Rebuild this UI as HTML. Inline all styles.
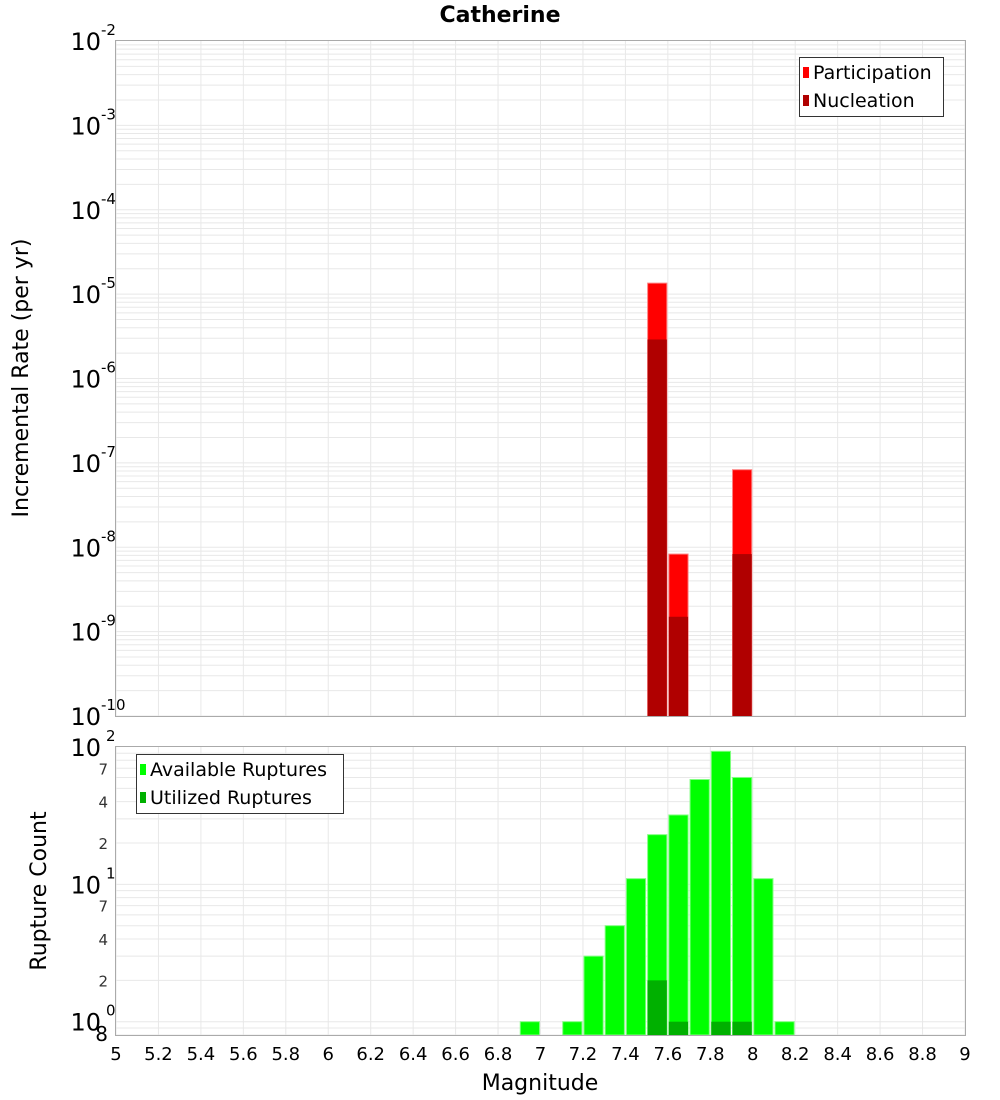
<!DOCTYPE html>
<html><head><meta charset="utf-8"><style>
body{margin:0;background:#fff;}
svg{display:block;font-family:"DejaVu Sans","Liberation Sans",sans-serif;}
</style></head><body>
<svg id="c" width="1000" height="1100" xmlns="http://www.w3.org/2000/svg">
<text x="500" y="22" text-anchor="middle" font-size="22" font-weight="bold">Catherine</text>
<text transform="translate(28,378) rotate(-90)" text-anchor="middle" font-size="22">Incremental Rate (per yr)</text>
<text transform="translate(46,891) rotate(-90)" text-anchor="middle" font-size="22">Rupture Count</text>
<text x="540" y="1090" text-anchor="middle" font-size="22">Magnitude</text>
<g id="g"></g>
</svg>
<script>
const mags = [6.95,7.05,7.15,7.25,7.35,7.45,7.55,7.65,7.75,7.85,7.95,8.05,8.15];
const available = [1,0,1,3,5,11,23,32,58,93,60,11,1];
const utilized = [0,0,0,0,0,0,2,1,0,1,1,0,0];
const rateMags = [7.55,7.65,7.95];
const participation = [1.35e-5,8.3e-9,8.3e-8];
const nucleation = [2.9e-6,1.5e-9,8.3e-9];
const xTicks = [5,5.2,5.4,5.6,5.8,6,6.2,6.4,6.6,6.8,7,7.2,7.4,7.6,7.8,8,8.2,8.4,8.6,8.8,9];
const topExps = [-2,-3,-4,-5,-6,-7,-8,-9,-10];

const NS="http://www.w3.org/2000/svg";
const g=document.getElementById('g');
function mk(t,a,txt){const e=document.createElementNS(NS,t);for(const k in a)e.setAttribute(k,a[k]);if(txt!==undefined)e.textContent=txt;g.appendChild(e);return e;}
const X0=116,X1=965;
const x=m=>X0+(m-5)/4*(X1-X0);
const T0=41,T1=716;
const yT=v=>T0+(-2-Math.log10(v))/8*(T1-T0);
const B0=747,B1=1035;
const bLmin=Math.log10(0.8),bLmax=2;
const yB=v=>B0+(bLmax-Math.log10(v))/(bLmax-bLmin)*(B1-B0);

// grids
for(const t of xTicks){
  for(const [a,b] of [[T0,T1],[B0,B1]]){
    const l=mk('line',{x1:x(t),x2:x(t),y1:a,y2:b,stroke:'#e8e8e8','stroke-width':1});
    
  }
}
for(let e=-10;e<-2;e++){for(let k=1;k<=9;k++){const v=k*Math.pow(10,e);if(v<1e-10)continue;
  const l=mk('line',{x1:X0,x2:X1,y1:yT(v),y2:yT(v),stroke:'#e8e8e8','stroke-width':1});
  }}
for(let e=-1;e<2;e++){for(let k=1;k<=9;k++){const v=k*Math.pow(10,e);if(v<0.8||v>100)continue;
  const l=mk('line',{x1:X0,x2:X1,y1:yB(v),y2:yB(v),stroke:'#e8e8e8','stroke-width':1});
  }}

// top bars
rateMags.forEach((m,i)=>{
  const l=x(m-0.05)+1,r=x(m+0.05)-1;
  const p=mk('rect',{x:l,y:yT(participation[i]),width:r-l,height:T1-yT(participation[i]),fill:'#ff0000',stroke:'#ff8080','stroke-width':1});
  
  const n=mk('rect',{x:l,y:yT(nucleation[i]),width:r-l,height:T1-yT(nucleation[i]),fill:'#b00000'});
  
});
// bottom bars
mags.forEach((m,i)=>{
  const l=x(m-0.05)+1,r=x(m+0.05)-1;
  if(available[i]>0){const a=mk('rect',{x:l,y:yB(available[i]),width:r-l,height:B1-yB(available[i]),fill:'#00ff00',stroke:'#80ff80','stroke-width':1});
  }
  if(utilized[i]>0){const u=mk('rect',{x:l,y:yB(utilized[i]),width:r-l,height:B1-yB(utilized[i]),fill:'#00b000'});
  }
});
// frames
for(const [a,b,n] of [[T0,T1,'top-plot-frame'],[B0,B1,'bottom-plot-frame']]){
  const f=mk('rect',{x:X0-0.5,y:a-0.5,width:X1-X0+1,height:b-a+1,fill:'none',stroke:'#aaaaaa','stroke-width':1});
  
}
// top y ticks
topExps.forEach(e=>{
  const yy=yT(Math.pow(10,e));
  const t=mk('text',{x:101,y:yy+9,'text-anchor':'end','font-size':24},'10');
  
  const s=mk('text',{x:101,y:yy-6,'font-size':15},String(e));
  
});
// bottom y ticks
[[100,'2'],[10,'1'],[1,'0']].forEach(([v,e])=>{
  const yy=yB(v);
  const t=mk('text',{x:101,y:yy+9,'text-anchor':'end','font-size':24},'10');
  
  const s=mk('text',{x:106,y:yy-6,'font-size':15},e);
  
});
[7,4,2,70,40,20,0.8].forEach(v=>{
  const lbl=v>=10?String(v/10):(v<1?'8':String(v));
  const t=mk('text',{x:108,y:yB(v)+6,'text-anchor':'end','font-size':v<1?20:15,fill:v<1?'#000':'#333'},lbl);
  
});
// x ticks
xTicks.forEach(t=>{
  const e=mk('text',{x:x(t),y:1060,'text-anchor':'middle','font-size':18},String(t));
  
});
// legends
function legend(bx,by,w,items,name){
  const r=mk('rect',{x:bx+0.5,y:by+0.5,width:w,height:59,fill:'#fff',stroke:'#333','stroke-width':1});
  
  items.forEach(([c,lab],i)=>{
    const sw=mk('rect',{x:bx+4,y:by+10+i*28,width:6,height:11,fill:c});
    
    const t=mk('text',{x:bx+14,y:by+22+i*28,'font-size':19},lab);
    
  });
}
legend(799,57,144,[['#ff0000','Participation'],['#b00000','Nucleation']],'top-legend');
legend(136,754,207,[['#00ff00','Available Ruptures'],['#00b000','Utilized Ruptures']],'bottom-legend');
</script>
</body></html>
